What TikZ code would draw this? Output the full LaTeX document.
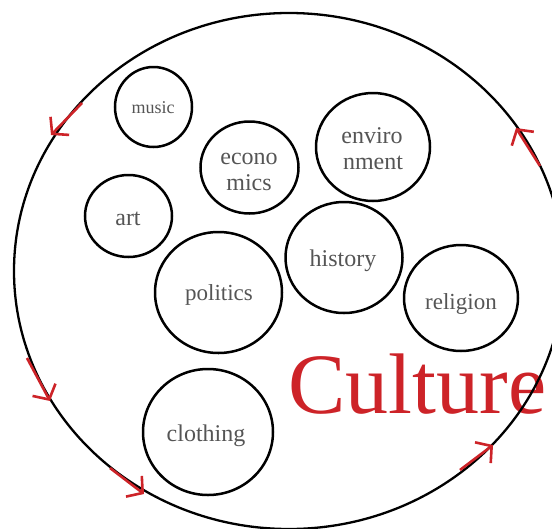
\documentclass[tikz,border=0pt]{standalone}
\usepackage{fontspec}
\setmainfont{Liberation Serif}
\usetikzlibrary{shapes.geometric,arrows.meta}
\definecolor{cred}{RGB}{205,35,40}
\definecolor{tgray}{RGB}{85,85,85}
\begin{document}
\begin{tikzpicture}[x=1pt,y=-1pt,
  bub/.style={draw=black, line width=2.5pt, ellipse, inner sep=0pt},
  lbl/.style={text=tgray, inner sep=0pt, anchor=base, font=\fontsize{24}{24}\selectfont},
  flow/.style={draw=cred, line width=2.6pt, -{Straight Barb[length=11pt,width=26pt]}}]
\useasboundingbox (0,0) rectangle (552,528);
% title
\node[anchor=base west, inner sep=0pt, text=cred, font=\fontsize{86}{86}\selectfont] (title) at (288,413) {Culture};
% big circle
\node[draw=black, line width=2.3pt, ellipse, inner sep=0pt, minimum width=550pt, minimum height=516pt] (culture) at (289,271) {};
% topic bubbles
\node[bub, minimum width=77pt, minimum height=80pt] (music) at (153.5,107) {};
\node[lbl, font=\fontsize{18}{18}\selectfont] (musict) at (153,113) {music};
\node[bub, minimum width=98pt, minimum height=92pt] (econ) at (249.5,167.5) {};
\node[lbl] (econt1) at (249,164) {econo};
\node[lbl] (econt2) at (249,190) {mics};
\node[bub, minimum width=114pt, minimum height=108pt] (env) at (373,147) {};
\node[lbl] (envt1) at (372,143) {enviro};
\node[lbl] (envt2) at (373,169) {nment};
\node[bub, minimum width=87pt, minimum height=82pt] (art) at (128.5,216) {};
\node[lbl] (artt) at (128,225) {art};
\node[bub, minimum width=127pt, minimum height=121pt] (pol) at (218.5,292.5) {};
\node[lbl, font=\fontsize{23}{23}\selectfont] (polt) at (219,300) {politics};
\node[bub, minimum width=117pt, minimum height=111pt] (hist) at (344,257.5) {};
\node[lbl] (histt) at (343,266.5) {history};
\node[bub, minimum width=114pt, minimum height=106pt] (rel) at (461,298) {};
\node[lbl, font=\fontsize{23}{23}\selectfont] (relt) at (461,309) {religion};
\node[bub, minimum width=130pt, minimum height=126pt] (cloth) at (208,432) {};
\node[lbl] (clotht) at (206,441) {clothing};
% flow arrows along the big circle
\coordinate (a1s) at (82,103);  \coordinate (a1e) at (51,135);
\coordinate (a2s) at (540,166); \coordinate (a2e) at (516,128);
\coordinate (a3s) at (27,358);  \coordinate (a3e) at (50,401);
\coordinate (a4s) at (110,468); \coordinate (a4e) at (144,494);
\coordinate (a5s) at (460,470); \coordinate (a5e) at (493,445);
\draw[flow] (a1s) -- (a1e);
\draw[flow] (a2s) -- (a2e);
\draw[flow] (a3s) -- (a3e);
\draw[flow] (a4s) -- (a4e);
\draw[flow] (a5s) -- (a5e);
\end{tikzpicture}
\end{document}
